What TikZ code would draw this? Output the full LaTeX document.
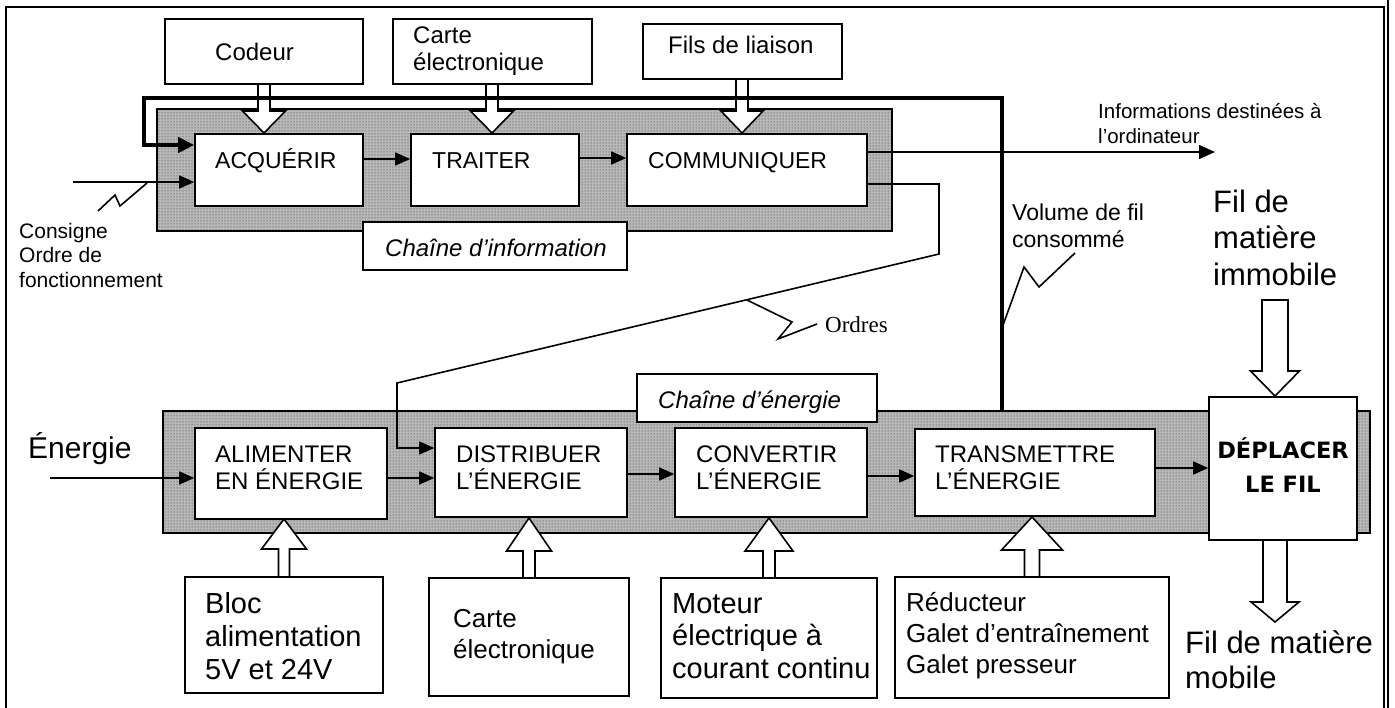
\documentclass[tikz,border=0pt]{standalone}
\usepackage{fontspec}
\setmainfont{Liberation Sans}
\newfontfamily\serifo{Liberation Serif}
\newfontfamily\boldsans{DejaVu Sans}
\usetikzlibrary{arrows.meta,patterns}
\newcommand{\mlines}[1]{\vtop{\halign{##\hfil\cr#1\crcr}}}
\newcommand{\clines}[1]{\vtop{\halign{\hfil##\hfil\cr#1\crcr}}}
% hollow arrow: x, tail y, tip y, stem half width, head half width, head base y
\newcommand{\hollowarrow}[6]{\filldraw[fill=white,line width=1.6pt,line join=miter] (#1-#4,#2) -- (#1-#4,#6) -- (#1-#5,#6) -- (#1,#3) -- (#1+#5,#6) -- (#1+#4,#6) -- (#1+#4,#2) -- cycle;}
\begin{document}
\begin{tikzpicture}[x=1pt,y=-1pt,line join=miter,
  box/.style={draw,fill=white,line width=1.6pt,inner sep=0pt},
  band/.style={draw,line width=1.6pt,inner sep=0pt,preaction={fill=black!28},pattern=dots,pattern color=black!85},
  txt/.style={inner sep=0pt,anchor=base west},
  fs/.style 2 args={font=\fontsize{#1}{#2}\selectfont},
  ital/.style={font=\fontsize{24}{27}\selectfont\itshape},
  arr/.style={line width=1.6pt,-{Triangle[length=15pt,width=13pt]}},
  thinline/.style={line width=1.6pt},
]
\useasboundingbox (0,0) rectangle (1395,707);
% frame
\draw[line width=1.8pt] (6,712) -- (6,7) -- (1384,7) -- (1384,712);
\draw[line width=1.2pt] (1388,-2) -- (1388,712);

% bands
\node[band,minimum width=735,minimum height=122] (infoband) at (524.5,170) {};
\node[band,minimum width=1207,minimum height=122] (energyband) at (766.5,472) {};

% boxes, information chain
\node[box,minimum width=198,minimum height=65] (codeur) at (264,51.5) {};
\node[box,minimum width=199,minimum height=65] (carteT) at (492.5,51.5) {};
\node[box,minimum width=199,minimum height=55] (fils) at (742.5,51.5) {};
\node[box,minimum width=168,minimum height=72] (acq) at (279,170) {};
\node[box,minimum width=168,minimum height=72] (trait) at (495,170) {};
\node[box,minimum width=240,minimum height=72] (comm) at (747,170) {};
\node[box,minimum width=264,minimum height=48] (chinfo) at (495,246) {};

% boxes, energy chain
\node[box,minimum width=240,minimum height=48] (chener) at (757,398) {};
\node[box,minimum width=192,minimum height=91] (alim) at (291,473.5) {};
\node[box,minimum width=192,minimum height=89] (dist) at (531,472.5) {};
\node[box,minimum width=192,minimum height=89] (conv) at (771,472.5) {};
\node[box,minimum width=240,minimum height=87] (trans) at (1035,472.5) {};
\node[box,minimum width=148,minimum height=143] (depl) at (1283,468.5) {};
\node[box,minimum width=198,minimum height=116] (bloc) at (284,635) {};
\node[box,minimum width=200,minimum height=118] (carteB) at (529,637) {};
\node[box,minimum width=216,minimum height=120] (moteur) at (769,638) {};
\node[box,minimum width=274,minimum height=121] (reduc) at (1032,637.5) {};

% hollow arrows
\hollowarrow{264}{84}{133}{6}{21.5}{111}
\hollowarrow{492}{84}{133}{6}{21.5}{111}
\hollowarrow{742}{79}{133}{6}{21}{111}
\hollowarrow{284}{577}{519}{5.5}{22.5}{549}
\hollowarrow{529}{578}{518}{6}{22.5}{551}
\hollowarrow{769}{578}{518}{6}{24}{551}
\hollowarrow{1032}{577}{517}{7.5}{30.5}{550}
\hollowarrow{1275}{300}{396}{13}{24.5}{371}
\hollowarrow{1275}{540}{622}{12}{24}{602}

% thick bus: measured wire volume back to ACQUERIR
\draw[line width=4pt,-{Triangle[length=16pt,width=15pt]}] (energyband.north -| 1002,0) -- (1002,98) -- (144,98) -- (144,145) -- (acq.west |- 0,145);

% information chain connectors
\draw[arr] (acq.east |- 0,159) -- (trait.west |- 0,159);
\draw[arr] (trait.east |- 0,158) -- (comm.west |- 0,158);
\coordinate (consin) at (73,182);
\draw[arr] (consin) -- (acq.west |- consin);
\draw[thinline] (98,211) -- (115,195) -- (120,206) -- (147,183);
\coordinate (infoend) at (1215,152);
\draw[line width=1.6pt,-{Triangle[length=16pt,width=14pt]}] (comm.east |- infoend) -- (infoend);
\draw[arr] (comm.east |- 0,184) -- (939,184) -- (939,254) -- (397,383) -- (397,448) -- (dist.west |- 0,448);
\draw[thinline] (747,300) -- (792,322) -- (778,339) -- (817,324);
\draw[thinline] (1002,328) -- (1024,267) -- (1039,287) -- (1075,253);

% energy chain connectors
\coordinate (enerin) at (50,478);
\draw[arr] (enerin) -- (alim.west |- enerin);
\draw[arr] (alim.east |- 0,478) -- (dist.west |- 0,478);
\draw[arr] (dist.east |- 0,474) -- (conv.west |- 0,474);
\draw[arr] (conv.east |- 0,476) -- (trans.west |- 0,476);
\draw[arr] (trans.east |- 0,468) -- (depl.west |- 0,468);

% texts
\node[txt,fs={24}{27}] (tcodeur) at (215,60) {Codeur};
\node[txt,fs={24}{27}] (tcarteT) at (413,43) {\mlines{Carte\cr électronique}};
\node[txt,fs={24}{27}] (tfils) at (668,53) {Fils de liaison};
\node[txt,fs={23}{27}] (tacq) at (215,168) {ACQUÉRIR};
\node[txt,fs={23}{27}] (ttrait) at (432,168) {TRAITER};
\node[txt,fs={23}{27}] (tcomm) at (648,168) {COMMUNIQUER};
\node[txt,ital] (tchinfo) at (385,256) {Chaîne d’information};
\node[txt,fs={21}{24.5}] (tcons) at (19,238) {\mlines{Consigne\cr Ordre de\cr fonctionnement}};
\node[txt,fs={20.5}{25}] (tinfo) at (1098,118) {\mlines{Informations destinées à\cr l’ordinateur}};
\node[txt,fs={23}{27}] (tvol) at (1012,220) {\mlines{Volume de fil\cr consommé}};
\node[txt,fs={31}{36.5}] (timmo) at (1213,212) {\mlines{Fil de\cr matière\cr immobile}};
\node[txt,font=\serifo\fontsize{23}{27}\selectfont] (tordres) at (825,332) {Ordres};
\node[txt,ital] (tchener) at (658,408) {Chaîne d’énergie};
\node[txt,fs={30}{36}] (tener) at (28,458) {Énergie};
\node[txt,fs={24}{27}] (talim) at (215,462) {\mlines{ALIMENTER\cr EN ÉNERGIE}};
\node[txt,fs={24}{27}] (tdist) at (456,462) {\mlines{DISTRIBUER\cr L’ÉNERGIE}};
\node[txt,fs={24}{27}] (tconv) at (696,462) {\mlines{CONVERTIR\cr L’ÉNERGIE}};
\node[txt,fs={24}{27}] (ttrans) at (935,462) {\mlines{TRANSMETTRE\cr L’ÉNERGIE}};
\node[inner sep=0pt,anchor=base,font=\boldsans\bfseries\fontsize{22.5}{34}\selectfont] (tdepl) at (1283,458) {\clines{DÉPLACER\cr LE FIL}};
\node[txt,fs={29}{33}] (tbloc) at (205,613) {\mlines{Bloc\cr alimentation\cr 5V et 24V}};
\node[txt,fs={26}{31}] (tcarteB) at (453,627) {\mlines{Carte\cr électronique}};
\node[txt,fs={29}{32.5}] (tmot) at (672,613) {\mlines{Moteur\cr électrique à\cr courant continu}};
\node[txt,fs={26}{31}] (tred) at (906,611) {\mlines{Réducteur\cr Galet d’entraînement\cr Galet presseur}};
\node[txt,fs={31}{35}] (tmob) at (1185,653) {\mlines{Fil de matière\cr mobile}};
\end{tikzpicture}
\end{document}
